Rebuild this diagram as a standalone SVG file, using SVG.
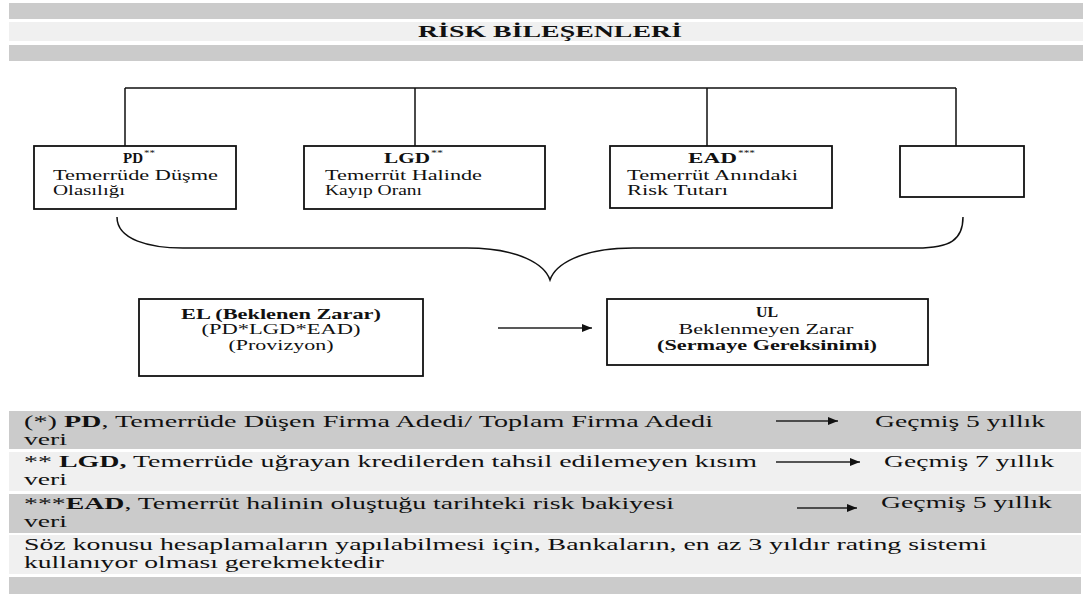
<svg xmlns="http://www.w3.org/2000/svg" width="1083" height="594" viewBox="0 0 1083 594">
<style>
text{font-family:"Liberation Serif","Times New Roman",serif;fill:#111}
.t{font-size:15px}
.b{font-weight:bold}
.r{font-size:17px}
.sup{font-size:9px}
.dark{fill:#cbcbcb}
.light{fill:#f0f0f0}
.box{fill:#fff;stroke:#111;stroke-width:1.8}
.ln{fill:none;stroke:#111;stroke-width:1.5}
.arr{fill:none;stroke:#222;stroke-width:1.3;marker-end:url(#ah)}
</style>
<defs>
<marker id="ah" viewBox="0 0 10 8" refX="10" refY="4" markerWidth="10" markerHeight="8" markerUnits="userSpaceOnUse" orient="auto">
<path d="M0,0 L10,4 L0,8 z" fill="#111"/>
</marker>
</defs>
<rect width="1083" height="594" fill="#fff"/>
<g id="header">
<rect class="dark" x="9" y="3" width="1074" height="16"/>
<rect class="light" x="9" y="22" width="1074" height="19"/>
<rect class="dark" x="9" y="45" width="1074" height="16"/>
<text class="b" x="550" y="37" text-anchor="middle" font-size="17" textLength="264" lengthAdjust="spacingAndGlyphs">RİSK BİLEŞENLERİ</text>
</g>
<g id="connectors">
<path class="ln" d="M125,88 H956 M125,88 V146 M415,88 V146 M707,88 V146 M956,88 V146"/>
<path class="ln" stroke-width="1.2" d="M117,217 C117,240 150,248 183,248 L467,248 C520,248 545,265 550,280 C555,265 580,248 633,248 L917,248 C950,248 963,240 963,217"/>
<line class="arr" x1="498" y1="328" x2="592" y2="328"/>
</g>
<g id="node-pd">
<rect class="box" x="34" y="146" width="202" height="63"/>
<text class="t b" x="123" y="163" textLength="20" lengthAdjust="spacingAndGlyphs">PD</text>
<text class="t sup" x="144" y="156" textLength="11" lengthAdjust="spacingAndGlyphs">**</text>
<text class="t" x="53" y="180" textLength="165" lengthAdjust="spacingAndGlyphs">Temerrüde Düşme</text>
<text class="t" x="53" y="195" textLength="72" lengthAdjust="spacingAndGlyphs">Olasılığı</text>
</g>
<g id="node-lgd">
<rect class="box" x="304" y="146" width="241" height="63"/>
<text class="t b" x="384" y="163" textLength="46" lengthAdjust="spacingAndGlyphs">LGD</text>
<text class="t sup" x="431" y="156" textLength="12" lengthAdjust="spacingAndGlyphs">**</text>
<text class="t" x="325" y="180" textLength="157" lengthAdjust="spacingAndGlyphs">Temerrüt Halinde</text>
<text class="t" x="325" y="195" textLength="97" lengthAdjust="spacingAndGlyphs">Kayıp Oranı</text>
</g>
<g id="node-ead">
<rect class="box" x="610" y="146" width="222" height="62"/>
<text class="t b" x="688" y="163" textLength="49" lengthAdjust="spacingAndGlyphs">EAD</text>
<text class="t sup" x="738" y="156" textLength="17" lengthAdjust="spacingAndGlyphs">***</text>
<text class="t" x="627" y="180" textLength="171" lengthAdjust="spacingAndGlyphs">Temerrüt Anındaki</text>
<text class="t" x="627" y="195" textLength="101" lengthAdjust="spacingAndGlyphs">Risk Tutarı</text>
</g>
<g id="node-empty">
<rect class="box" x="900" y="146" width="124" height="51"/>
</g>
<g id="node-el">
<rect class="box" x="139" y="299" width="284" height="77"/>
<text class="t b" x="281" y="319" text-anchor="middle" textLength="200" lengthAdjust="spacingAndGlyphs">EL (Beklenen Zarar)</text>
<text class="t" x="281" y="334" text-anchor="middle" textLength="159" lengthAdjust="spacingAndGlyphs">(PD*LGD*EAD)</text>
<text class="t" x="281" y="350" text-anchor="middle" textLength="105" lengthAdjust="spacingAndGlyphs">(Provizyon)</text>
</g>
<g id="node-ul">
<rect class="box" x="607" y="299" width="321" height="66"/>
<text class="t b" x="767" y="317" text-anchor="middle" textLength="22" lengthAdjust="spacingAndGlyphs">UL</text>
<text class="t" x="766" y="334" text-anchor="middle" textLength="175" lengthAdjust="spacingAndGlyphs">Beklenmeyen Zarar</text>
<text class="t b" x="767" y="350" text-anchor="middle" textLength="220" lengthAdjust="spacingAndGlyphs">(Sermaye Gereksinimi)</text>
</g>
<g id="notes">
<rect class="dark" x="9" y="411" width="1072" height="38"/>
<rect class="light" x="9" y="452" width="1072" height="39"/>
<rect class="dark" x="9" y="494" width="1072" height="39"/>
<rect class="light" x="9" y="535" width="1072" height="39"/>
<rect class="dark" x="9" y="577" width="1072" height="17"/>
<text class="r" x="24" y="427" textLength="689" lengthAdjust="spacingAndGlyphs">(*) <tspan class="b">PD</tspan>, Temerrüde Düşen Firma Adedi/ Toplam Firma Adedi</text>
<text class="r" x="24" y="445" textLength="43" lengthAdjust="spacingAndGlyphs">veri</text>
<line class="arr" x1="776" y1="421" x2="838" y2="421"/>
<text class="r" x="875" y="427" textLength="170" lengthAdjust="spacingAndGlyphs">Geçmiş 5 yıllık</text>
<text class="r" x="24" y="467" textLength="733" lengthAdjust="spacingAndGlyphs">** <tspan class="b">LGD,</tspan> Temerrüde uğrayan kredilerden tahsil edilemeyen kısım</text>
<text class="r" x="24" y="485" textLength="43" lengthAdjust="spacingAndGlyphs">veri</text>
<line class="arr" x1="776" y1="462" x2="860" y2="462"/>
<text class="r" x="884" y="467" textLength="170" lengthAdjust="spacingAndGlyphs">Geçmiş 7 yıllık</text>
<text class="r" x="24" y="509" textLength="650" lengthAdjust="spacingAndGlyphs">***<tspan class="b">EAD</tspan>, Temerrüt halinin oluştuğu tarihteki risk bakiyesi</text>
<text class="r" x="24" y="527" textLength="43" lengthAdjust="spacingAndGlyphs">veri</text>
<line class="arr" x1="797" y1="508" x2="857" y2="508"/>
<text class="r" x="881" y="508" textLength="171" lengthAdjust="spacingAndGlyphs">Geçmiş 5 yıllık</text>
<text class="r" x="24" y="550" textLength="963" lengthAdjust="spacingAndGlyphs">Söz konusu hesaplamaların yapılabilmesi için, Bankaların, en az 3 yıldır rating sistemi</text>
<text class="r" x="24" y="568" textLength="360" lengthAdjust="spacingAndGlyphs">kullanıyor olması gerekmektedir</text>
</g>
</svg>
